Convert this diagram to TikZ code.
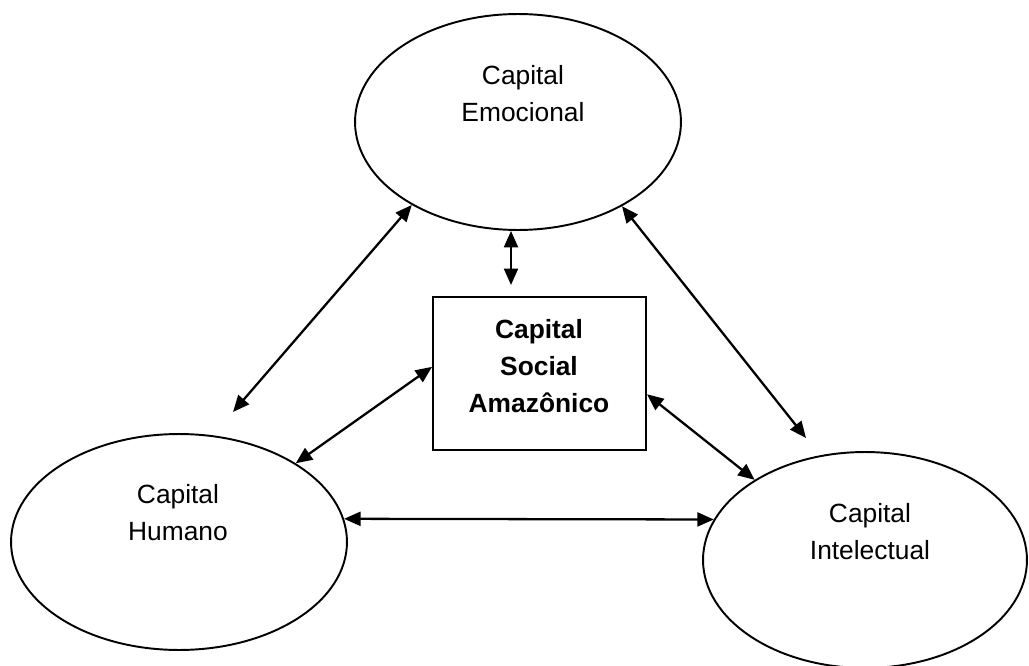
\documentclass[tikz,border=0pt]{standalone}
\usepackage{fontspec}
\setmainfont{Liberation Sans}
\usetikzlibrary{shapes.geometric,arrows.meta,calc}
\begin{document}
\begin{tikzpicture}[x=0.02cm,y=-0.02cm,
  bub/.style={draw,ellipse,line width=1.1pt,minimum height=4.32cm,inner sep=0pt},
  box/.style={draw,rectangle,line width=1.1pt,minimum width=4.26cm,minimum height=3.06cm,inner sep=0pt},
  txt/.style={align=center,font=\fontsize{15}{21}\selectfont},
  link/.style={line width=1.3pt,{Triangle[length=0.33cm,width=0.28cm]}-{Triangle[length=0.33cm,width=0.28cm]}}]
\useasboundingbox (0,0) rectangle (1029,666);
\node[bub,minimum width=6.52cm] (emo) at (518,122) {};
\node[bub,minimum width=6.72cm] (hum) at (179,542) {};
\node[bub,minimum width=6.48cm] (int) at (865,560) {};
\node[box] (soc) at (539.5,373.5) {};
\node[txt] (emot) at (523,94) {Capital\\Emocional};
\node[txt] (humt) at (178,513) {Capital\\Humano};
\node[txt] (intt) at (870,532) {Capital\\Intelectual};
\node[txt,font=\fontsize{15}{21}\selectfont\bfseries] (soct) at (539,366) {Capital\\Social\\Amazônico};
\coordinate (f1) at (233,412);
\coordinate (f2) at (806,438);
\coordinate (f3) at (511,285);
\draw[link] (emo.218) -- (f1);
\draw[link] (emo.321) -- (f2);
\draw[link] (emo.south -| f3) -- (f3);
\draw[link] ($(soc.north west)!0.457!(soc.south west)$) -- (hum.34);
\draw[link] ($(soc.north east)!0.634!(soc.south east)$) -- (int.144);
\draw[link] (hum.8.6) -- (int.165);
\end{tikzpicture}
\end{document}
